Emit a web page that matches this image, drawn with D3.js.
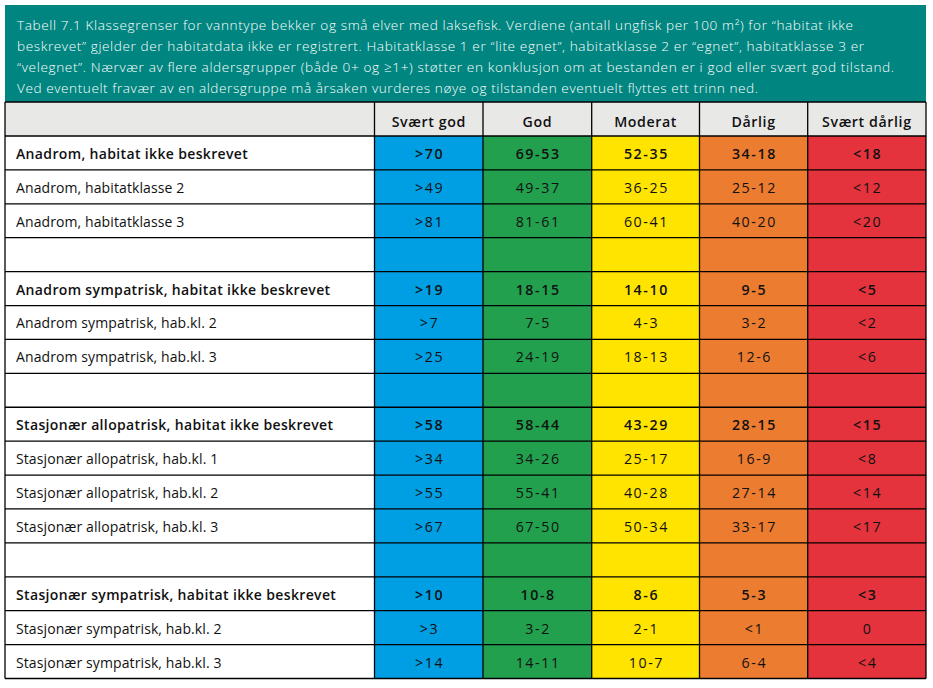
<!DOCTYPE html>
<html><head><meta charset="utf-8">
<script src="https://cdn.jsdelivr.net/npm/d3@7"></script>
<style>
html,body{margin:0;padding:0;background:#fff;}
svg{display:block;}
</style></head>
<body>
<svg id="chart" width="933" height="688"></svg>
<script>
const captionLines = [
  "Tabell 7.1 Klassegrenser for vanntype bekker og små elver med laksefisk. Verdiene (antall ungfisk per 100 m²) for \u201Chabitat ikke",
  "beskrevet\u201D gjelder der habitatdata ikke er registrert. Habitatklasse 1 er \u201Clite egnet\u201D, habitatklasse 2 er \u201Cegnet\u201D, habitatklasse 3 er",
  "\u201Cvelegnet\u201D. Nærvær av flere aldersgrupper (både 0+ og \u22651+) støtter en konklusjon om at bestanden er i god eller svært god tilstand.",
  "Ved eventuelt fravær av en aldersgruppe må årsaken vurderes nøye og tilstanden eventuelt flyttes ett trinn ned."
];
const classes = ["Svært god", "God", "Moderat", "Dårlig", "Svært dårlig"];
const classColors = ["#009fe3", "#22a04e", "#ffe400", "#ec7c30", "#e4333d"];
const rowLabels = [
  "Anadrom, habitat ikke beskrevet",
  "Anadrom, habitatklasse 2",
  "Anadrom, habitatklasse 3",
  "",
  "Anadrom sympatrisk, habitat ikke beskrevet",
  "Anadrom sympatrisk, hab.kl. 2",
  "Anadrom sympatrisk, hab.kl. 3",
  "",
  "Stasjonær allopatrisk, habitat ikke beskrevet",
  "Stasjonær allopatrisk, hab.kl. 1",
  "Stasjonær allopatrisk, hab.kl. 2",
  "Stasjonær allopatrisk, hab.kl. 3",
  "",
  "Stasjonær sympatrisk, habitat ikke beskrevet",
  "Stasjonær sympatrisk, hab.kl. 2",
  "Stasjonær sympatrisk, hab.kl. 3"
];
const boldRows = [0, 4, 8, 13];
const svaertGod   = [">70", ">49", ">81", "", ">19", ">7", ">25", "", ">58", ">34", ">55", ">67", "", ">10", ">3", ">14"];
const god         = ["69-53", "49-37", "81-61", "", "18-15", "7-5", "24-19", "", "58-44", "34-26", "55-41", "67-50", "", "10-8", "3-2", "14-11"];
const moderat     = ["52-35", "36-25", "60-41", "", "14-10", "4-3", "18-13", "", "43-29", "25-17", "40-28", "50-34", "", "8-6", "2-1", "10-7"];
const darlig      = ["34-18", "25-12", "40-20", "", "9-5", "3-2", "12-6", "", "28-15", "16-9", "27-14", "33-17", "", "5-3", "<1", "6-4"];
const svaertDarlig= ["<18", "<12", "<20", "", "<5", "<2", "<6", "", "<15", "<8", "<14", "<17", "", "<3", "0", "<4"];
const seriesValues = [svaertGod, god, moderat, darlig, svaertDarlig];

// ---- layout ----
const svg = d3.select("#chart");
const font = "'Open Sans', 'Noto Sans', sans-serif";
const L = 5, R = 926, capTop = 5, headTop = 102, bodyTop = 136, bodyBot = 678.5;
const labelRight = 374.5;
const colLeft = d3.scaleOrdinal().domain(classes).range([374.5, 483, 591.7, 699.5, 807.7]);
const colRight = c => { const i = classes.indexOf(c); return i < classes.length - 1 ? colLeft(classes[i+1]) : R; };
const y = d3.scaleBand().domain(d3.range(rowLabels.length)).range([bodyTop, bodyBot]).padding(0);

// caption
svg.append("rect").attr("x", L).attr("y", capTop).attr("width", R - L).attr("height", headTop - capTop).attr("fill", "#008580");
const capY = d3.scaleLinear().domain([0, 1]).range([30, 51]);
const capWidths = [836, 847, 877, 741];
svg.selectAll("text.cap").data(captionLines).join("text")
  .attr("class", "cap")
  .attr("x", 17).attr("y", (d, i) => capY(i))
  .attr("fill", "#fff").attr("font-family", font).attr("font-size", 13.6).attr("font-weight", 300)
  .attr("textLength", (d, i) => capWidths[i]).attr("lengthAdjust", "spacing")
  .text(d => d);

// header row
svg.append("rect").attr("x", L).attr("y", headTop).attr("width", R - L).attr("height", bodyTop - headTop).attr("fill", "#e8e8e7");
svg.selectAll("text.head").data(classes).join("text")
  .attr("class", "head")
  .attr("x", d => (colLeft(d) + colRight(d)) / 2).attr("y", 126.5)
  .attr("text-anchor", "middle").attr("font-family", font).attr("font-size", 14.2).attr("font-weight", 600)
  .attr("letter-spacing", 0.6).attr("fill", "#111")
  .text(d => d);

// body: white label column
svg.append("rect").attr("x", L).attr("y", bodyTop).attr("width", labelRight - L).attr("height", bodyBot - bodyTop).attr("fill", "#fff");

// colored columns
svg.selectAll("rect.col").data(classes).join("rect")
  .attr("class", "col")
  .attr("x", d => colLeft(d)).attr("y", bodyTop)
  .attr("width", d => colRight(d) - colLeft(d)).attr("height", bodyBot - bodyTop)
  .attr("fill", (d, i) => classColors[i]);

// row labels
svg.selectAll("text.rl").data(rowLabels).join("text")
  .attr("class", "rl")
  .attr("x", 16).attr("y", (d, i) => y(i) + y.bandwidth() / 2 + 6)
  .attr("font-family", font).attr("font-size", 14)
  .attr("font-weight", (d, i) => boldRows.includes(i) ? 600 : 400)
  .attr("letter-spacing", (d, i) => boldRows.includes(i) ? 0.35 : 0.1)
  .attr("fill", "#111")
  .text(d => d);

// cell values
classes.forEach((c, ci) => {
  svg.selectAll("text.v" + ci).data(seriesValues[ci]).join("text")
    .attr("class", "v" + ci)
    .attr("x", (colLeft(c) + colRight(c)) / 2 + 0.8)
    .attr("y", (d, i) => y(i) + y.bandwidth() / 2 + 6)
    .attr("text-anchor", "middle").attr("font-family", font).attr("font-size", 14.2)
    .attr("font-weight", (d, i) => boldRows.includes(i) ? 600 : 400)
    .attr("letter-spacing", 1.6)
    .attr("fill", "#111")
    .text(d => d);
});

// grid lines
const g = svg.append("g").attr("stroke", "#000").attr("stroke-width", 1.3).attr("fill", "none");
const hLines = [headTop, ...d3.range(rowLabels.length).map(i => y(i)), bodyBot];
g.selectAll("line.h").data(hLines).join("line").attr("class", "h")
  .attr("x1", L).attr("x2", R).attr("y1", d => d).attr("y2", d => d);
const vLines = [L, labelRight, ...classes.slice(1).map(c => colLeft(c)), R];
g.selectAll("line.v").data(vLines).join("line").attr("class", "v")
  .attr("x1", d => d).attr("x2", d => d).attr("y1", headTop).attr("y2", bodyBot);
</script>
</body></html>
